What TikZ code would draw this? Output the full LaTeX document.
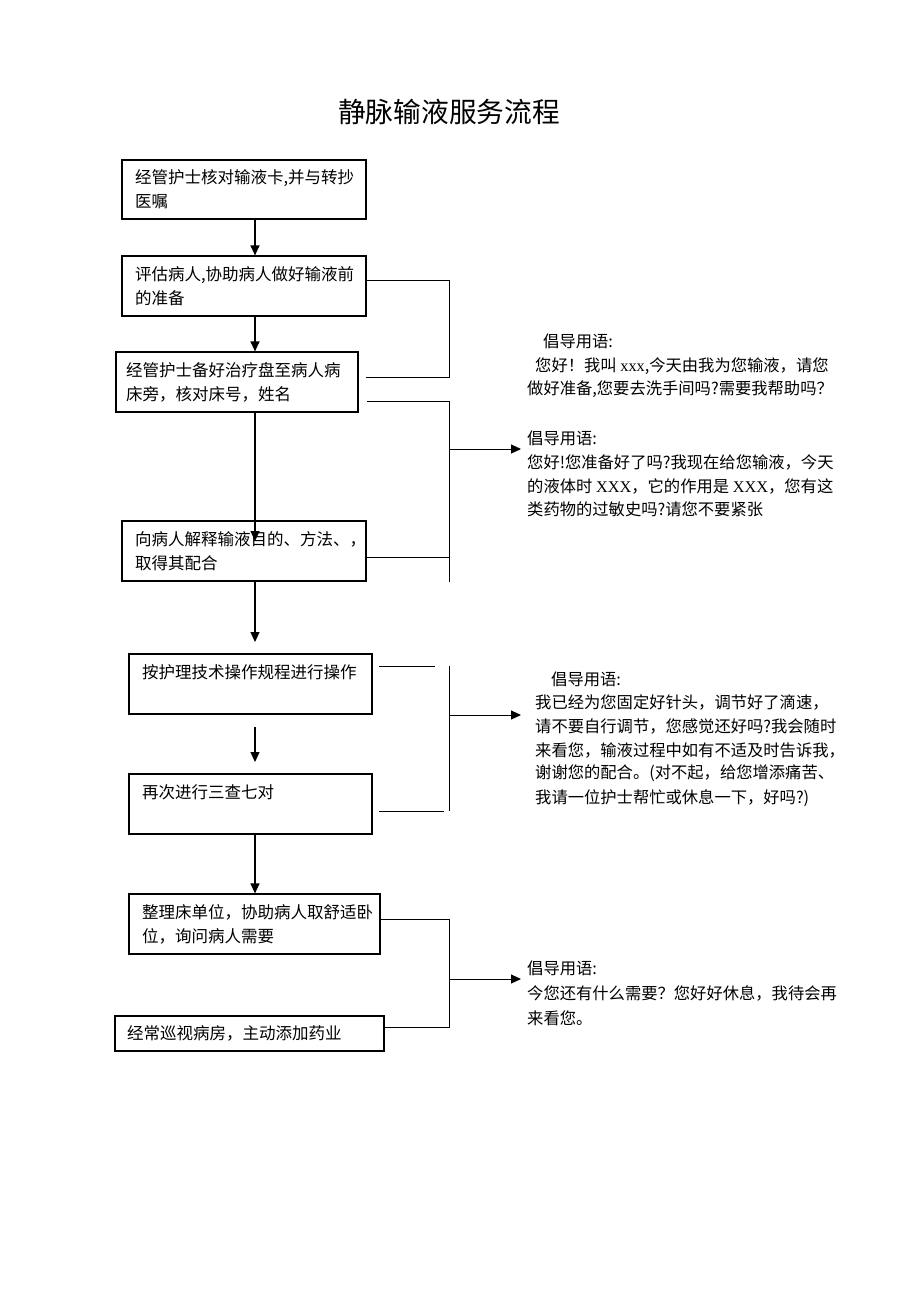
\documentclass[tikz,border=0pt]{standalone}
\usepackage{fontspec}
\newfontfamily\cjk{Noto Sans CJK SC}
\newfontfamily\lat{Liberation Serif}
\usetikzlibrary{arrows.meta}
\begin{document}
\begin{tikzpicture}[x=1pt,y=-1pt,font=\cjk,
  box/.style={draw,rectangle,line width=1.2pt,inner xsep=13pt,inner ysep=0pt,align=left,
    font=\cjk\fontsize{16.5}{24}\selectfont},
  say/.style={anchor=west,inner sep=0pt,font=\cjk\fontsize{16.3}{24}\selectfont},
  arr/.style={-{Triangle[length=10pt,width=9pt]},line width=1.2pt},
  link/.style={line width=1pt}]
\useasboundingbox (0,0) rectangle (920,1302);
\fill[white] (0,0) rectangle (920,1302);

\node[font=\cjk\fontsize{27.7}{30}\selectfont] (title) at (449,112) {静脉输液服务流程};

% boxes
\node[box,minimum width=244pt,minimum height=59pt,text width=218pt] (b1) at (244,189.5)
  {经管护士核对输液卡,并与转抄\\医嘱};
\node[box,minimum width=244pt,minimum height=60pt,text width=218pt] (b2) at (244,286)
  {评估病人,协助病人做好输液前\\的准备};
\node[box,inner xsep=10pt,minimum width=242pt,minimum height=60pt,text width=222pt] (b3) at (237,382)
  {经管护士备好治疗盘至病人病\\床旁，核对床号，姓名};
\node[box,minimum width=244pt,minimum height=60pt,text width=218pt] (b4) at (244,551)
  {向病人解释输液目的、方法、，\\取得其配合};
\node[box,minimum width=243pt,minimum height=60pt,text width=217pt] (b5) at (250.5,684)
  {按护理技术操作规程进行操作\\\mbox{}};
\node[box,minimum width=243pt,minimum height=60pt,text width=217pt] (b6) at (250.5,804)
  {再次进行三查七对\\\mbox{}};
\node[box,minimum width=251pt,minimum height=60pt,text width=225pt] (b7) at (254.5,924)
  {整理床单位，协助病人取舒适卧\\位，询问病人需要};
\node[box,inner xsep=12pt,minimum width=269pt,minimum height=35pt,text width=245pt] (b8) at (249.5,1033.5)
  {经常巡视病房，主动添加药业};

% main flow arrows
\coordinate (sp) at (255,0);
\draw[arr] (b1.south -| sp) -- (b2.north -| sp);
\draw[arr] (b2.south -| sp) -- (b3.north -| sp);
\coordinate (e4) at (255,541);
\draw[arr] (b3.south -| sp) -- (e4);
\coordinate (e5) at (255,642);
\draw[arr] (b4.south -| sp) -- (e5);
\coordinate (s6) at (255,727);
\coordinate (e6) at (255,762);
\draw[arr] (s6) -- (e6);
\draw[arr] (b6.south -| sp) -- (b7.north -| sp);

% bracket 1
\coordinate (k1a) at (366,280);
\coordinate (k1b) at (449,280);
\coordinate (k1c) at (449,377);
\coordinate (k1d) at (366,377);
\draw[link] (k1a) -- (k1b) -- (k1c) -- (k1d);

% bracket 2
\coordinate (k2a) at (367,401);
\coordinate (k2b) at (449,401);
\coordinate (k2c) at (449,582);
\coordinate (k2d) at (449,557);
\coordinate (k2s) at (449,449);
\coordinate (k2e) at (521,449);
\draw[link] (k2a) -- (k2b) -- (k2c);
\draw[link] (b4.east |- k2d) -- (k2d);
\draw[arr,line width=1pt] (k2s) -- (k2e);

% bracket 3
\coordinate (k3a) at (379,666);
\coordinate (k3b) at (435,666);
\coordinate (k3c) at (449,666);
\coordinate (k3d) at (449,811);
\coordinate (k3e) at (379,811);
\coordinate (k3f) at (444,811);
\coordinate (k3s) at (449,715);
\coordinate (k3t) at (521,715);
\draw[link] (k3a) -- (k3b);
\draw[link] (k3c) -- (k3d);
\draw[link] (k3e) -- (k3f);
\draw[arr,line width=1pt] (k3s) -- (k3t);

% bracket 4
\coordinate (k4a) at (449,919);
\coordinate (k4b) at (449,1027);
\coordinate (k4s) at (449,979);
\coordinate (k4t) at (521,979);
\draw[link] (b7.east |- k4a) -- (k4a) -- (k4b) -- (b8.east |- k4b);
\draw[arr,line width=1pt] (k4s) -- (k4t);

% phrases
\node[say] (t1a) at (543,341) {倡导用语:};
\node[say] (t1b) at (535,366) {您好！我叫 {\lat xxx},今天由我为您输液，请您};
\node[say] (t1c) at (527,389) {做好准备,您要去洗手间吗?需要我帮助吗？};

\node[say] (t2a) at (527,438) {倡导用语:};
\node[say] (t2b) at (527,462) {您好!您准备好了吗?我现在给您输液，今天};
\node[say] (t2c) at (527,486) {的液体时 {\lat XXX}，它的作用是 {\lat XXX}，您有这};
\node[say] (t2d) at (527,509) {类药物的过敏史吗?请您不要紧张};

\node[say] (t3a) at (551,679) {倡导用语:};
\node[say] (t3b) at (535,702) {我已经为您固定好针头，调节好了滴速，};
\node[say] (t3c) at (535,726) {请不要自行调节，您感觉还好吗?我会随时};
\node[say] (t3d) at (535,750) {来看您，输液过程中如有不适及时告诉我，};
\node[say] (t3e) at (535,773) {谢谢您的配合。(对不起，给您增添痛苦、};
\node[say] (t3f) at (535,798) {我请一位护士帮忙或休息一下，好吗?)};

\node[say] (t4a) at (527,968) {倡导用语:};
\node[say] (t4b) at (527,993) {今您还有什么需要？您好好休息，我待会再};
\node[say] (t4c) at (527,1018) {来看您。};
\end{tikzpicture}
\end{document}
